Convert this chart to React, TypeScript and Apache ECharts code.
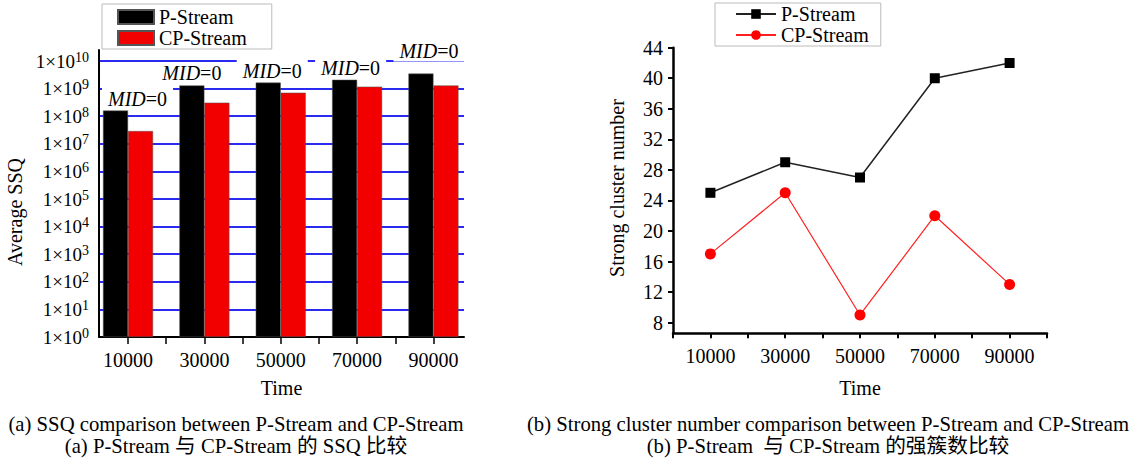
import React, { useEffect, useRef } from 'react';
import * as echarts from 'echarts';

// ---------- data ----------
const timeValues = [10000, 30000, 50000, 70000, 90000];
const seriesNames = ['P-Stream', 'CP-Stream'];
const ssqP = [1.6e8, 1.3e9, 1.65e9, 2.1e9, 3.5e9];
const ssqCP = [2.9e7, 3.1e8, 7.1e8, 1.18e9, 1.3e9];
const midText = 'MID=0';
const clusterP = [25, 29, 27, 40, 42];
const clusterCP = [17, 25, 9, 22, 13];
const captionA = ['(a) SSQ comparison between P-Stream and CP-Stream', '(a) P-Stream 与 CP-Stream 的 SSQ 比较'];
const captionB = ['(b) Strong cluster number comparison between P-Stream and CP-Stream', '(b) P-Stream  与 CP-Stream 的强簇数比较'];
const axisNames = { time: 'Time', ssq: 'Average SSQ', cluster: 'Strong cluster number' };

// ---------- styling ----------
const FONT = "'Liberation Serif', 'Times New Roman', serif";
const CJK_FONT = "'Liberation Serif', 'Noto Sans CJK SC', serif";
const MID_SHIFT = [[22, 0], [0, 0], [4, 0], [6, 0], [8, -11]];

function oddTickLabel(v: number) {
  return v % 20000 === 10000 ? String(v) : '';
}

function caption(x: number, lines: string[]) {
  return lines.map((t, i) => ({
    type: 'text',
    x,
    y: 424 + i * 22,
    style: { text: t, fontSize: 20.7, fontFamily: CJK_FONT, fill: '#000', align: 'center', verticalAlign: 'middle' },
  }));
}

function leftOption(): any {
  const midParts = midText.split('=');
  return {
    animation: false,
    backgroundColor: '#fff',
    textStyle: { fontFamily: FONT },
    legend: {
      left: 102, top: 4, orient: 'vertical', icon: 'rect', itemWidth: 36, itemHeight: 14, itemGap: 1,
      padding: [3, 25, 1, 15], borderColor: '#bbb', borderWidth: 1, backgroundColor: '#fff',
      textStyle: { fontSize: 20, color: '#000', fontFamily: FONT },
      data: seriesNames,
    },
    grid: { left: 99, top: 50, right: 56, bottom: 124 },
    xAxis: {
      type: 'value', min: 2400, max: 98000, minInterval: 10000, maxInterval: 10000, splitNumber: 10,
      axisLine: { show: true, onZero: false, lineStyle: { color: '#000', width: 2 } },
      axisTick: { show: true, length: 7, lineStyle: { color: '#000', width: 1.5 } },
      axisLabel: { formatter: oddTickLabel, fontSize: 20, color: '#000', margin: 13, fontFamily: FONT, showMinLabel: false, showMaxLabel: false },
      splitLine: { show: false },
      name: axisNames.time, nameLocation: 'middle', nameGap: 41,
      nameTextStyle: { fontSize: 20, color: '#000', fontFamily: FONT },
    },
    yAxis: {
      type: 'log', logBase: 10, min: 1, max: 2.51e10, interval: 1,
      axisLine: { show: true, onZero: false, lineStyle: { color: '#000', width: 2 } },
      axisTick: { show: false },
      axisLabel: {
        showMaxLabel: false, margin: 10,
        formatter: (v: number) => '{b|1×10}{s|' + Math.round(Math.log10(v)) + '}',
        rich: {
          b: { fontSize: 19, color: '#000', fontFamily: FONT, lineHeight: 22 },
          s: { fontSize: 14, color: '#000', fontFamily: FONT, lineHeight: 14, verticalAlign: 'top' },
        },
      },
      splitLine: { show: true, showMaxLine: false, lineStyle: { color: '#2a2af0', width: 2 } },
    },
    series: [
      {
        name: seriesNames[0], type: 'bar', barWidth: 25, barGap: '0%',
        itemStyle: { color: '#000', borderColor: '#555', borderWidth: 0.5 },
        data: timeValues.map((t, i) => ({
          value: [t, ssqP[i]],
          label: { offset: MID_SHIFT[i] },
        })),
        label: {
          show: true, position: 'top', distance: 1,
          formatter: '{i|' + midParts[0] + '}{n|=' + midParts[1] + '}',
          backgroundColor: '#fff', padding: [1, 6],
          rich: {
            i: { fontStyle: 'italic', fontSize: 20, fontFamily: FONT, color: '#000' },
            n: { fontSize: 20, fontFamily: FONT, color: '#000' },
          },
        },
      },
      {
        name: seriesNames[1], type: 'bar', barWidth: 25, barGap: '0%',
        itemStyle: { color: '#f20000', borderColor: '#555', borderWidth: 0.5 },
        data: timeValues.map((t, i) => [t, ssqCP[i]]),
      },
    ],
    graphic: [
      {
        type: 'text', x: 15, y: 212, rotation: Math.PI / 2,
        style: { text: axisNames.ssq, fontSize: 20, fontFamily: FONT, fill: '#000', align: 'center', verticalAlign: 'middle' },
      },
      ...caption(236, captionA),
    ],
  };
}

function rightOption(): any {
  return {
    animation: false,
    backgroundColor: '#fff',
    textStyle: { fontFamily: FONT },
    legend: {
      left: 195, top: 3, orient: 'vertical', itemWidth: 40, itemHeight: 12, itemGap: 1,
      padding: [1, 12, 1, 20], borderColor: '#bbb', borderWidth: 1, backgroundColor: '#fff',
      textStyle: { fontSize: 20, color: '#000', fontFamily: FONT },
      data: seriesNames,
    },
    grid: { left: 153, top: 47.7, right: 94, bottom: 127.7 },
    xAxis: {
      type: 'value', min: 0, max: 100000, interval: 10000,
      axisLine: { show: true, onZero: false, lineStyle: { color: '#000', width: 2.5 } },
      axisTick: { show: true, length: 5, lineStyle: { color: '#000', width: 2 } },
      axisLabel: { formatter: oddTickLabel, fontSize: 20, color: '#000', margin: 13, fontFamily: FONT },
      splitLine: { show: false },
      name: axisNames.time, nameLocation: 'middle', nameGap: 45,
      nameTextStyle: { fontSize: 20, color: '#000', fontFamily: FONT },
    },
    yAxis: {
      type: 'value', min: 6.6, max: 44, minInterval: 4, maxInterval: 4, splitNumber: 9,
      axisLine: { show: true, onZero: false, lineStyle: { color: '#000', width: 2.5 } },
      axisTick: { show: true, length: 5, lineStyle: { color: '#000', width: 2 } },
      axisLabel: { fontSize: 20, color: '#000', margin: 10, fontFamily: FONT, showMinLabel: false },
      splitLine: { show: false },
    },
    series: [
      {
        name: seriesNames[0], type: 'line', symbol: 'rect', symbolSize: 10,
        itemStyle: { color: '#000' }, lineStyle: { color: '#222', width: 1.5 },
        data: timeValues.map((t, i) => [t, clusterP[i]]),
      },
      {
        name: seriesNames[1], type: 'line', symbol: 'circle', symbolSize: 11,
        itemStyle: { color: '#ff0000' }, lineStyle: { color: '#ff2020', width: 1.2 },
        data: timeValues.map((t, i) => [t, clusterCP[i]]),
      },
    ],
    graphic: [
      {
        type: 'text', x: 97, y: 188, rotation: Math.PI / 2,
        style: { text: axisNames.cluster, fontSize: 20, fontFamily: FONT, fill: '#000', align: 'center', verticalAlign: 'middle' },
      },
      ...caption(308, captionB),
    ],
  };
}

function Chart({ left, width, option }: { left: number; width: number; option: () => any }) {
  const ref = useRef<HTMLDivElement>(null);
  useEffect(() => {
    if (!ref.current) return;
    const chart = echarts.init(ref.current, undefined, { renderer: 'svg' });
    chart.setOption(option());
    return () => chart.dispose();
  }, [option]);
  return <div ref={ref} style={{ position: 'absolute', left, top: 0, width, height: 461 }} />;
}

export default function App() {
  return (
    <div style={{ position: 'fixed', left: 0, top: 0, width: 1141, height: 461, background: '#fff' }}>
      <Chart left={0} width={520} option={leftOption} />
      <Chart left={520} width={621} option={rightOption} />
    </div>
  );
}
